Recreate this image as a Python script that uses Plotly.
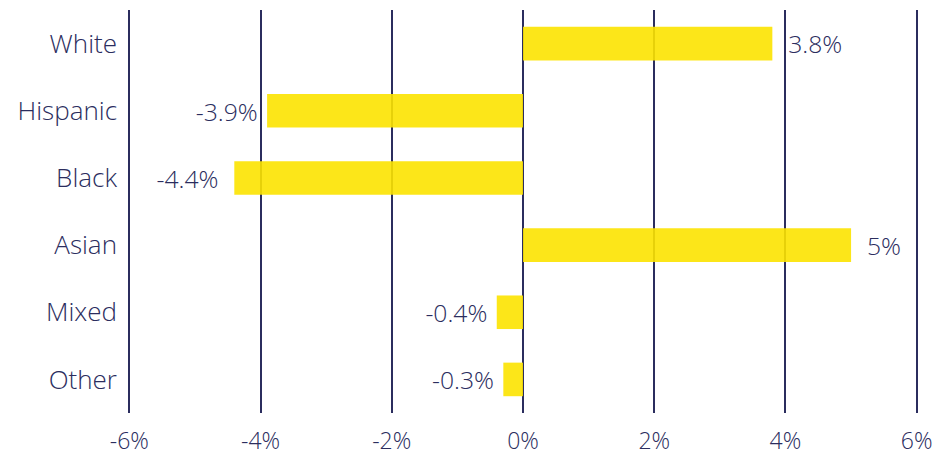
import plotly.graph_objects as go

categories = ["White", "Hispanic", "Black", "Asian", "Mixed", "Other"]
values = [3.8, -3.9, -4.4, 5, -0.4, -0.3]
labels = ["\u00a0\u00a03.8%", "-3.9%\u00a0", "-4.4%\u00a0\u00a0", "\u00a0\u00a05%", "-0.4%\u00a0", "-0.3%\u00a0"]
tick_vals = [-6, -4, -2, 0, 2, 4, 6]
tick_text = ["-6%", "-4%", "-2%", "0%", "2%", "4%", "6%"]

navy = "#2b2d5e"
font_family = "'Open Sans', Lato, sans-serif"

fig = go.Figure(go.Bar(
    x=values,
    y=categories,
    orientation="h",
    marker=dict(color="rgba(252,227,0,0.9)", line=dict(width=0)),
    width=0.5,
    text=labels,
    textposition="outside",
    cliponaxis=False,
    textfont=dict(family=font_family, size=25, color=navy, weight=300),
))

fig.update_layout(
    width=932, height=458,
    margin=dict(l=128, r=14, t=10, b=45),
    paper_bgcolor="white", plot_bgcolor="white",
    showlegend=False,
    font=dict(family=font_family, size=24, color=navy, weight=300),
    xaxis=dict(
        range=[-6.02, 6.02], tickvals=tick_vals, ticktext=tick_text,
        showgrid=True, gridcolor=navy, gridwidth=2,
        zeroline=True, zerolinecolor=navy, zerolinewidth=2,
        showline=False, ticks="", ticklabelstandoff=12,
        ticklabeloverflow="allow",
        automargin=False,
        tickfont=dict(size=23, color=navy, family=font_family, weight=300),
        layer="below traces",
    ),
    yaxis=dict(
        categoryorder="array", categoryarray=categories[::-1],
        autorange=False, range=[-0.5, 5.5],
        showgrid=False, zeroline=False, showline=False, ticks="",
        ticklabelstandoff=10, automargin=False,
        tickfont=dict(size=26, color=navy, family=font_family, weight=300),
    ),
)

fig.write_html(
    "out.html",
    config={"displayModeBar": False},
    post_script="document.body.style.margin='0';document.body.style.overflow='hidden';",
)
